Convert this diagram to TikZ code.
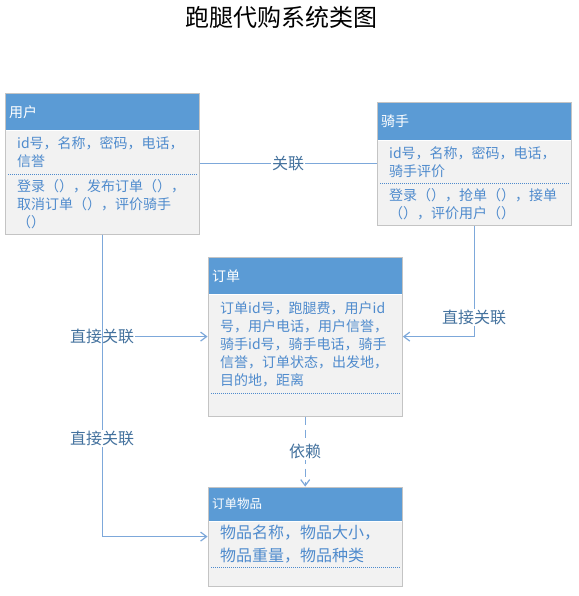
\documentclass[tikz,border=0pt]{standalone}
\usepackage{fontspec}
\usepackage{xcolor}
\usepackage{tikz}
\usetikzlibrary{arrows.meta, positioning, fit}
\newfontfamily\cjk{Noto Sans CJK SC}
\definecolor{hdrblue}{RGB}{91,155,213}
\definecolor{boxfill}{RGB}{242,242,242}
\definecolor{boxgray}{RGB}{196,196,196}
\definecolor{txtblue}{RGB}{79,139,205}
\definecolor{lblblue}{RGB}{68,114,158}
\definecolor{linkblue}{RGB}{125,168,218}
\tikzset{
  classhdr/.style={rectangle, fill=hdrblue, text=white, anchor=north west,
    text width=186pt, inner xsep=4pt, inner ysep=0pt, align=left,
    font=\cjk\fontsize{14}{18}\selectfont},
  classbody/.style={rectangle, fill=boxfill, text=txtblue,
    text width=170pt, inner xsep=12pt, inner ysep=0pt, align=left,
    font=\cjk\fontsize{14}{18}\selectfont},
  classframe/.style={rectangle, draw=boxgray, line width=0.8pt, inner sep=0pt},
  sepline/.style={txtblue, line width=0.7pt, dash pattern=on 1pt off 1pt},
  link/.style={linkblue, line width=1.2pt},
  linkarrow/.style={link, -{Straight Barb[length=6pt,width=9pt]}},
  deparrow/.style={linkarrow, dash pattern=on 8pt off 5pt},
  linklabel/.style={fill=white, text=lblblue, inner sep=1pt,
    font=\cjk\fontsize{16}{18}\selectfont}
}

\begin{document}
\begin{tikzpicture}[x=1pt, y=-1pt]
  \useasboundingbox (0,0) rectangle (578,596);

  % Title
  \node[font=\cjk\fontsize{24}{28}\selectfont] (title) at (281,17) {跑腿代购系统类图};

  % User class
  \node[classhdr, minimum height=37pt] (userhdr) at (5,93) {用户};
  \node[classbody, minimum height=44pt, below=0pt of userhdr] (userattr)
    {id号，名称，密码，电话，\\信誉};
  \node[classbody, minimum height=59pt, below=0pt of userattr] (userops)
    {登录（），发布订单（），\\取消订单（），评价骑手\\（）};
  \node[classframe, fit=(userhdr)(userops)] (user) {};
  \draw[sepline] ([xshift=3pt]userattr.south west) -- ([xshift=-3pt]userattr.south east);

  % Rider class
  \node[classhdr, minimum height=38pt] (riderhdr) at (377,102) {骑手};
  \node[classbody, minimum height=43pt, below=0pt of riderhdr] (riderattr)
    {id号，名称，密码，电话，\\骑手评价};
  \node[classbody, minimum height=41pt, below=0pt of riderattr] (riderops)
    {登录（），抢单（），接单\\（），评价用户（）};
  \node[classframe, fit=(riderhdr)(riderops)] (rider) {};
  \draw[sepline] ([xshift=3pt]riderattr.south west) -- ([xshift=-3pt]riderattr.south east);

  % Order class
  \node[classhdr, minimum height=37pt] (orderhdr) at (208,257) {订单};
  \node[classbody, minimum height=99pt, below=0pt of orderhdr] (orderattr)
    {订单id号，跑腿费，用户id\\号，用户电话，用户信誉，\\骑手id号，骑手电话，骑手\\信誉，订单状态，出发地，\\目的地，距离};
  \node[classbody, minimum height=22pt, below=0pt of orderattr] (orderops) {};
  \node[classframe, fit=(orderhdr)(orderops)] (order) {};
  \draw[sepline] ([xshift=3pt]orderattr.south west) -- ([xshift=-3pt]orderattr.south east);

  % Goods class
  \node[classhdr, minimum height=34pt, font=\cjk\fontsize{12.5}{16}\selectfont] (goodshdr) at (208,487) {订单物品};
  \node[classbody, minimum height=46pt, below=0pt of goodshdr, font=\cjk\fontsize{16}{23}\selectfont] (goodsattr)
    {物品名称，物品大小，\\物品重量，物品种类};
  \node[classbody, minimum height=18pt, below=0pt of goodsattr] (goodsops) {};
  \node[classframe, fit=(goodshdr)(goodsops)] (goods) {};
  \draw[sepline] ([xshift=3pt]goodsattr.south west) -- ([xshift=-3pt]goodsattr.south east);

  % Relations
  \draw[link] (user) -- (rider) node[midway, linklabel] {关联};
  \draw[linkarrow] (user) |- (order) node[pos=0.5, linklabel] {直接关联};
  \draw[linkarrow] (user) |- (goods) node[pos=0.338, linklabel] {直接关联};
  \draw[linkarrow] (rider) |- (order) node[pos=0.415, linklabel] {直接关联};
  \draw[deparrow] (order) -- (goods) node[midway, linklabel] {依赖};
\end{tikzpicture}
\end{document}
